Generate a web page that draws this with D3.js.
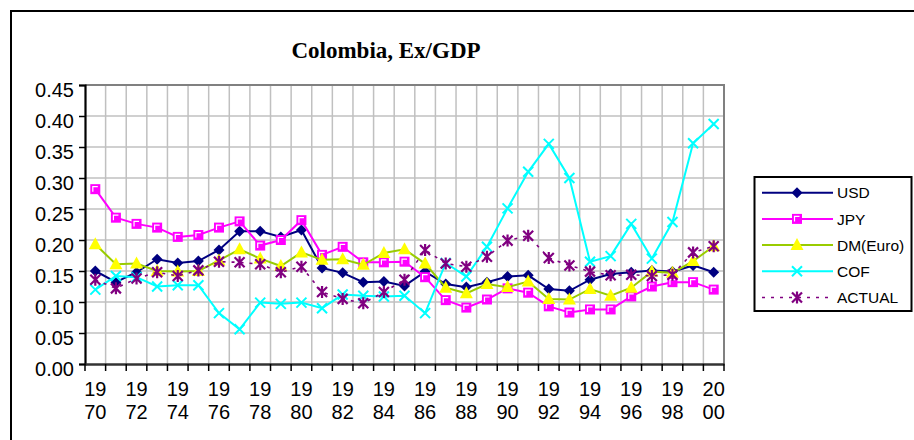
<!DOCTYPE html>
<html><head><meta charset="utf-8">
<script src="https://cdn.jsdelivr.net/npm/d3@7"></script>
<style>html,body{margin:0;padding:0;background:#fff;}svg{display:block;}</style>
</head><body>
<svg id="chart" width="914" height="440"></svg>
<script>
const title = "Colombia, Ex/GDP";
const years = ["1970","1971","1972","1973","1974","1975","1976","1977","1978","1979","1980","1981","1982","1983","1984","1985","1986","1987","1988","1989","1990","1991","1992","1993","1994","1995","1996","1997","1998","1999","2000"];
const yTicks = [0.00,0.05,0.10,0.15,0.20,0.25,0.30,0.35,0.40,0.45];
const seriesNames = ["USD","JPY","DM(Euro)","COF","ACTUAL"];
const USD = [0.150,0.132,0.148,0.169,0.163,0.166,0.184,0.214,0.214,0.205,0.216,0.155,0.147,0.132,0.133,0.126,0.149,0.129,0.124,0.132,0.141,0.143,0.121,0.118,0.136,0.145,0.148,0.151,0.149,0.159,0.148];
const JPY = [0.282,0.236,0.226,0.220,0.205,0.208,0.220,0.230,0.191,0.200,0.232,0.176,0.189,0.164,0.164,0.165,0.140,0.103,0.091,0.104,0.122,0.115,0.093,0.083,0.088,0.088,0.109,0.125,0.132,0.132,0.120];
const DM = [0.193,0.161,0.162,0.150,0.149,0.150,0.167,0.185,0.170,0.158,0.180,0.168,0.169,0.160,0.179,0.185,0.162,0.123,0.114,0.129,0.124,0.133,0.105,0.104,0.121,0.110,0.123,0.149,0.147,0.166,0.190];
const COF = [0.120,0.142,0.140,0.125,0.127,0.127,0.082,0.056,0.099,0.097,0.099,0.090,0.112,0.110,0.109,0.110,0.082,0.163,0.141,0.189,0.251,0.310,0.355,0.300,0.165,0.174,0.226,0.170,0.229,0.356,0.387];
const ACTUAL = [0.136,0.122,0.138,0.148,0.142,0.151,0.165,0.164,0.161,0.148,0.157,0.116,0.105,0.098,0.116,0.136,0.184,0.162,0.157,0.173,0.199,0.207,0.171,0.159,0.149,0.143,0.144,0.142,0.144,0.180,0.190];

const svg = d3.select("#chart");
const L = 85, R = 724, T = 85, B = 364;

// outer chart border
svg.append("rect").attr("x", 11).attr("y", 11).attr("width", 1000).attr("height", 1000)
  .attr("fill", "none").attr("stroke", "#000").attr("stroke-width", 2);

svg.append("text").attr("x", 386).attr("y", 58).attr("text-anchor", "middle")
  .attr("font-family", "'Liberation Serif','Times New Roman',serif").attr("font-weight", "bold")
  .attr("font-size", 23).attr("fill", "#000").text(title);

const x = d3.scaleBand().domain(years).range([L, R]).padding(0);
const y = d3.scaleLinear().domain([0, 0.45]).range([B, T]);
const cx = d => x(d) + x.bandwidth() / 2;

// gridlines
const g = svg.append("g");
g.selectAll("line.h").data(yTicks.slice(1, -1)).enter().append("line")
  .attr("x1", L).attr("x2", R).attr("y1", d => y(d)).attr("y2", d => y(d))
  .attr("stroke", "#c0c0c0").attr("stroke-width", 1.5);
g.selectAll("line.v").data(years.slice(1)).enter().append("line")
  .attr("x1", d => x(d)).attr("x2", d => x(d)).attr("y1", T).attr("y2", B)
  .attr("stroke", "#c0c0c0").attr("stroke-width", 1.5);
// plot border top/right
svg.append("path").attr("d", `M${L},${T}H${R}V${B}`).attr("fill", "none")
  .attr("stroke", "#808080").attr("stroke-width", 2);

// y axis
const yAxis = d3.axisLeft(y).tickValues(yTicks).tickFormat(d3.format(".2f")).tickSize(6).tickPadding(5);
const ya = svg.append("g").attr("transform", `translate(${L},0)`).call(yAxis);
ya.select(".domain").attr("stroke", "#000").attr("stroke-width", 2.2);
ya.selectAll(".tick line").attr("stroke", "#000").attr("stroke-width", 1.5);
ya.selectAll(".tick text").attr("font-family", "'Liberation Sans',Arial,sans-serif")
  .attr("font-size", 20).attr("fill", "#000").attr("dy", "0.55em").attr("x", -11);

// x axis
const xAxis = d3.axisBottom(x).tickSize(0).tickFormat("");
const xa = svg.append("g").attr("transform", `translate(0,${B})`).call(xAxis);
xa.select(".domain").attr("stroke", "#333").attr("stroke-width", 2.4);
svg.append("g").selectAll("line").data(years.concat(["end"])).enter().append("line")
  .attr("x1", (d, i) => L + i * x.bandwidth()).attr("x2", (d, i) => L + i * x.bandwidth())
  .attr("y1", B).attr("y2", B + 7).attr("stroke", "#000").attr("stroke-width", 1.5);
const lab = svg.append("g").selectAll("text").data(years.filter((d, i) => i % 2 === 0)).enter().append("text")
  .attr("x", d => cx(d)).attr("text-anchor", "middle")
  .attr("font-family", "'Liberation Sans',Arial,sans-serif").attr("font-size", 20).attr("fill", "#000");
lab.append("tspan").attr("x", d => cx(d)).attr("y", 396).text(d => d.slice(0, 2));
lab.append("tspan").attr("x", d => cx(d)).attr("y", 419).text(d => d.slice(2));

// marker drawers
function diamond(sel, px, py) {
  sel.append("path").attr("d", `M${px},${py-5.5}L${px+5.5},${py}L${px},${py+5.5}L${px-5.5},${py}Z`).attr("fill", "#000080");
}
function square(sel, px, py) {
  sel.append("rect").attr("x", px - 5).attr("y", py - 5).attr("width", 10).attr("height", 10).attr("fill", "#ff00ff");
  sel.append("path").attr("d", `M${px-2.5},${py+2.5}V${py-2.5}H${px+2.5}`).attr("fill", "none").attr("stroke", "#fff").attr("stroke-width", 1.2);
}
function triangle(sel, px, py) {
  sel.append("path").attr("d", `M${px},${py-7}L${px+6.5},${py+5}L${px-6.5},${py+5}Z`).attr("fill", "#ffff00");
}
function cross(sel, px, py) {
  sel.append("path").attr("d", `M${px-5},${py-5}L${px+5},${py+5}M${px+5},${py-5}L${px-5},${py+5}`).attr("stroke", "#00ffff").attr("stroke-width", 2);
}
function star(sel, px, py) {
  sel.append("path").attr("d", `M${px-5},${py-5}L${px+5},${py+5}M${px+5},${py-5}L${px-5},${py+5}M${px},${py-6}V${py+6}`).attr("stroke", "#800080").attr("stroke-width", 2.2);
}

const series = [
  {name: seriesNames[0], vals: USD, color: "#000080", w: 2, dash: null, mk: diamond},
  {name: seriesNames[1], vals: JPY, color: "#ff00ff", w: 2, dash: null, mk: square},
  {name: seriesNames[2], vals: DM, color: "#99cc00", w: 2, dash: null, mk: triangle},
  {name: seriesNames[3], vals: COF, color: "#00ffff", w: 2, dash: null, mk: cross},
  {name: seriesNames[4], vals: ACTUAL, color: "#800080", w: 1.6, dash: "3,6", mk: star}
];

const line = d3.line().x((d, i) => cx(years[i])).y(d => y(d));
series.forEach(s => {
  const sg = svg.append("g");
  sg.append("path").attr("d", line(s.vals)).attr("fill", "none").attr("stroke", s.color)
    .attr("stroke-width", s.w).attr("stroke-dasharray", s.dash);
  s.vals.forEach((v, i) => s.mk(sg, cx(years[i]), y(v)));
});

// legend
const lg = svg.append("g");
lg.append("rect").attr("x", 754.5).attr("y", 177).attr("width", 157).attr("height", 134)
  .attr("fill", "#fff").attr("stroke", "#000").attr("stroke-width", 2);
series.forEach((s, i) => {
  const ly = 192.7 + i * 26.2;
  lg.append("line").attr("x1", 762).attr("x2", 833).attr("y1", ly).attr("y2", ly)
    .attr("stroke", s.color).attr("stroke-width", s.w).attr("stroke-dasharray", s.dash);
  s.mk(lg, 797, ly);
  lg.append("text").attr("x", 837).attr("y", ly + 5.6).attr("font-family", "'Liberation Sans',Arial,sans-serif")
    .attr("font-size", 15.5).attr("fill", "#000").text(s.name);
});
</script>
</body></html>
